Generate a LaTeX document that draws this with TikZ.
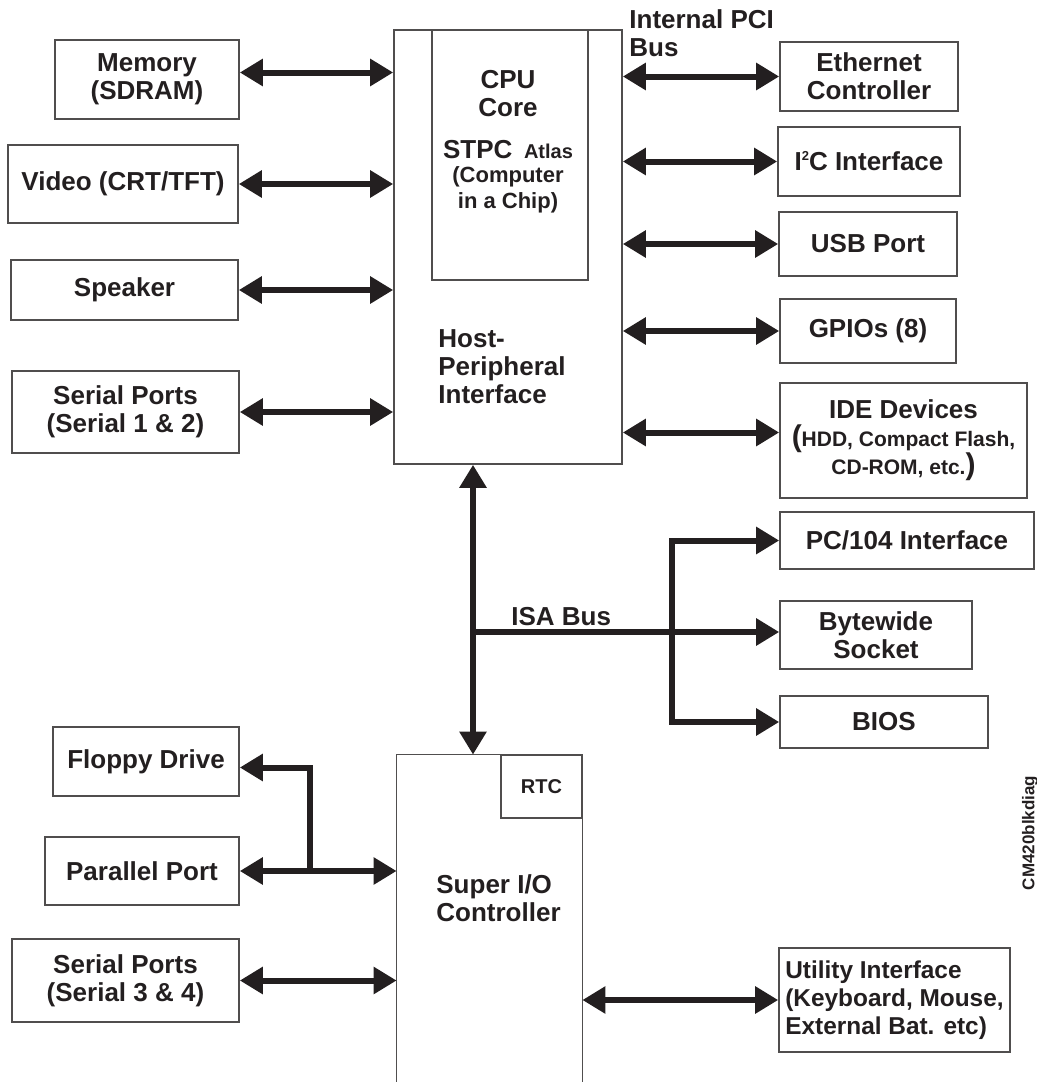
\documentclass[tikz,border=0pt]{standalone}
\usepackage{fontspec}
\setmainfont{Liberation Sans}
\usetikzlibrary{arrows.meta}

\definecolor{ink}{RGB}{35,31,32}
\definecolor{edge}{RGB}{80,78,78}
\newcommand{\lblfont}{\bfseries\fontsize{13}{14}\selectfont}
\newcommand{\subfont}{\bfseries\fontsize{10.5}{14.5}\selectfont}

\begin{document}
\begin{tikzpicture}[x=0.5pt, y=-0.5pt,
    >={Triangle[length=11.5pt, width=13pt]},
    blk/.style={draw=edge, line width=0.8pt, inner sep=0, align=center, font=\lblfont, text=ink},
    wh/.style 2 args={minimum width=#1*0.5pt, minimum height=#2*0.5pt},
    txt/.style={inner sep=0, align=left, font=\lblfont, text=ink},
    bus/.style={draw=ink, line width=3pt, <->}]
        \useasboundingbox (0,0) rectangle (1037,1082);

        % host side
        \node (host) [blk, wh={228}{434}] at (508,247) {};
        \node (cpu) [blk, wh={156}{250}] at (510,155) {};
        \node (cputxt) [txt, align=center] at (508,94) {CPU\\Core};
        \node (stpc) [txt] at (508,150) {STPC\, {\fontsize{10}{12}\selectfont Atlas}};
        \node (chip) [txt, align=center, font=\bfseries\fontsize{11}{13}\selectfont] at (508,190) {(Computer\\in a Chip)};
        \node (hpi) [txt, anchor=west] at (438,367) {Host-\\Peripheral\\Interface};
        \node (pci) [txt, anchor=west] at (629,33) {Internal PCI\\Bus};

        \node (mem) [blk, wh={184}{79}] at (147,79.5) {Memory\\(SDRAM)};
        \node (vid) [blk, wh={230}{78}] at (123,184) {Video (CRT/TFT)};
        \node (spk) [blk, wh={227}{60}] at (124.5,290) {Speaker};
        \node (ser1) [blk, wh={227}{82}] at (125.5,412) {Serial Ports\\(Serial 1 \& 2)};

        \node (eth) [blk, wh={178}{69}] at (869,76.5) {Ethernet\\Controller};
        \node (iic) [blk, wh={182}{69}] at (869,161.5) {I\raisebox{5pt}{\fontsize{6.5}{7}\selectfont 2}C Interface};
        \node (usb) [blk, wh={178}{64}] at (868,244) {USB Port};
        \node (gpio) [blk, wh={176}{64}] at (868,331) {GPIOs (8)};
        \node (ide) [blk, wh={247}{115}] at (903.5,440.5) {IDE Devices\\{\fontsize{15}{15}\selectfont(}{\subfont HDD, Compact Flash,}\\{\subfont CD-ROM, etc.}{\fontsize{15}{15}\selectfont)}};

        % isa side
        \node (pc) [blk, wh={254}{57}] at (907,540.5) {PC/104 Interface};
        \node (byte) [blk, wh={192}{68}] at (876,635) {Bytewide\\Socket};
        \node (bios) [blk, wh={208}{52}] at (884,722) {BIOS};
        \node (isatxt) [txt, anchor=base west] at (511,625) {ISA Bus};
        \coordinate (isa) at (473,632);
        \coordinate (brk) at (672,632);

        % super i/o side
        \node (sio) [inner sep=0, wh={185}{327}] at (489.5,918.5) {};
        \draw[edge, line width=0.8pt] (sio.south west) |- (sio.north east) -- (sio.south east);
        \node (rtc) [blk, wh={81}{63}, font=\bfseries\fontsize{10}{12}\selectfont] at (541.5,786.5) {RTC};
        \node (siotxt) [txt, anchor=west] at (436,898) {Super I/O\\Controller};

        \node (flop) [blk, wh={186}{69}] at (146,761.5) {Floppy Drive};
        \node (par) [blk, wh={194}{68}] at (142,871) {Parallel Port};
        \node (ser3) [blk, wh={227}{83}] at (125.5,980.5) {Serial Ports\\(Serial 3 \& 4)};
        \node (util) [blk, wh={231}{104}, align=left, font=\bfseries\fontsize{12.2}{14}\selectfont] at (894.5,1000) {Utility Interface\\(Keyboard, Mouse,\\External Bat. etc)};
        \coordinate (fj) at (310,870);

        \node (tag) [txt, rotate=90, font=\bfseries\fontsize{8.5}{10}\selectfont] at (1030,833) {CM420blkdiag};

        % buses
        \draw[bus] ([yshift=3.5pt]mem.east) -- ([yshift=3.5pt]mem.east -| host.west);
        \draw[bus] (vid.east) -- (vid.east -| host.west);
        \draw[bus] (spk.east) -- (spk.east -| host.west);
        \draw[bus] (ser1.east) -- (ser1.east -| host.west);

        \draw[bus] (eth.west -| host.east) -- (eth.west);
        \draw[bus] (iic.west -| host.east) -- (iic.west);
        \draw[bus] (usb.west -| host.east) -- (usb.west);
        \draw[bus] (gpio.west -| host.east) -- (gpio.west);
        \draw[bus] ([yshift=4pt]ide.west -| host.east) -- ([yshift=4pt]ide.west);

        \draw[bus] (host.south -| isa) -- (sio.north -| isa);
        \draw[bus, ->] (isa) -- (isa -| byte.west);
        \draw[bus] (pc.west) -| (brk) |- (bios.west);

        \draw[bus] (par.east) -- (par.east -| sio.west);
        \draw[bus, ->] (fj) |- ([yshift=-3pt]flop.east);
        \draw[bus] (ser3.east) -- (ser3.east -| sio.west);
        \draw[bus] (util.west -| sio.east) -- (util.west);
\end{tikzpicture}
\end{document}
